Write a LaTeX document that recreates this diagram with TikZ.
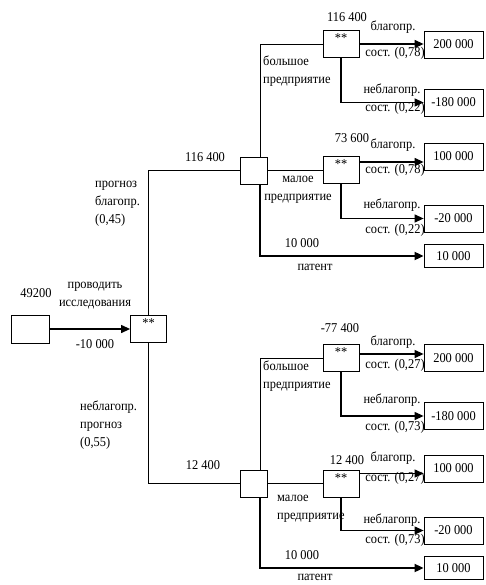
\documentclass[tikz,border=0pt]{standalone}
\usepackage{fontspec}
\setmainfont[FakeStretch=0.92]{Liberation Serif}
\usetikzlibrary{arrows.meta,calc}
\begin{document}
\begin{tikzpicture}[x=1pt,y=-1pt,
  font=\fontsize{13.5}{15}\selectfont,
  startbox/.style={draw,line width=0.8pt,minimum width=38pt,minimum height=28pt,inner sep=0pt},
  chance/.style={draw,line width=0.8pt,minimum width=36pt,minimum height=27pt,inner sep=3pt,text height=9pt,text depth=12pt},
  sq/.style={draw,line width=0.8pt,minimum size=27pt,inner sep=0pt},
  term/.style={draw,line width=0.8pt,minimum width=59pt,minimum height=27pt,inner sep=0pt},
  lbl/.style={inner sep=0pt,font=\fontsize{13.5}{18}\selectfont},
  conn/.style={line width=0.8pt},
  arr/.style={line width=1.2pt,-{Triangle[length=9pt,width=8pt]}},
  pat/.style={line width=1.8pt,-{Triangle[length=9pt,width=8pt]}}]
\useasboundingbox (0,0) rectangle (485,585);
% nodes
\node[startbox] (s) at (30,329) {};
\node[chance] (d0) at (148.5,329) {**};
\node[sq] (u) at (253.5,170.5) {};
\node[sq] (l) at (253.5,483.5) {};
\node[chance] (b1) at (341,44) {**};
\node[chance] (b2) at (341,170) {**};
\node[chance] (b3) at (341,358) {**};
\node[chance] (b4) at (341,483.5) {**};
\node[term] (t1) at (453.5,44.5) {200 000};
\node[term] (t2) at (453.5,102.5) {-180 000};
\node[term] (t3) at (453.5,156.5) {100 000};
\node[term] (t4) at (453.5,218.5) {-20 000};
\node[term,minimum height=23pt] (t5) at (453.5,256) {10 000};
\node[term] (t6) at (453.5,358) {200 000};
\node[term] (t7) at (453.5,416) {-180 000};
\node[term] (t8) at (453.5,468.5) {100 000};
\node[term] (t9) at (453.5,530.5) {-20 000};
\node[term,minimum height=23pt] (t10) at (453.5,568) {10 000};
% connectors
\draw[arr] (s) -- (d0);
\draw[conn] (d0.north) |- (u.west);
\draw[conn] (d0.south) |- (l.west);
\draw[conn] ([xshift=6.5pt]u.north) |- (b1.west);
\draw[conn] (u.east) -- (u.east -| b2.west);
\draw[pat] ([xshift=6.5pt]u.south) |- (t5.west);
\draw[arr] (b1.east) -- (b1.east -| t1.west);
\draw[arr] (b1.south) |- (t2.west);
\draw[arr] ([yshift=8pt]b2.east) coordinate (c2) -- (c2 -| t3.west);
\draw[arr] (b2.south) |- (t4.west);
\draw[conn] ([xshift=6.5pt]l.north) |- (b3.west);
\draw[conn] (l.east) -- (l.east -| b4.west);
\draw[pat] ([xshift=6.5pt]l.south) |- (t10.west);
\draw[arr] ([yshift=4pt]b3.east) coordinate (c3) -- (c3 -| t6.west);
\draw[arr] (b3.south) |- (t7.west);
\draw[arr] ([yshift=10pt]b4.east) coordinate (c4) -- (c4 -| t8.west);
\draw[arr] (b4.south) |- (t9.west);
% labels
\node[lbl] (v0) at (36,293) {49200};
\node[lbl,align=center] (q0) at (95,296) {проводить\\исследования};
\node[lbl] (c0) at (95,344) {-10 000};
\node[lbl] (vu) at (205,157) {116 400};
\node[lbl,align=left,anchor=west] (pu) at (95,204) {прогноз\\благопр.\\(0,45)};
\node[lbl,align=left,anchor=west] (pl) at (80,425) {неблагопр.\\прогноз\\(0,55)};
\node[lbl] (vl) at (203,465) {12 400};
% upper big
\node[lbl] (v1) at (347,17) {116 400};
\node[lbl,align=left,anchor=west] (e1) at (263,71.5) {большое\\предприятие};
\node[lbl] (g1) at (393,27) {благопр.};
\node[lbl] (h1) at (395,53) {сост. (0,78)};
\node[lbl] (g2) at (392,90) {неблагопр.};
\node[lbl] (h2) at (395,108) {сост. (0,22)};
% upper small
\node[lbl] (v2) at (352,138) {73 600};
\node[lbl,align=center] (e2) at (298,190) {малое\\предприятие};
\node[lbl] (g3) at (393,145) {благопр.};
\node[lbl] (h3) at (395,170) {сост. (0,78)};
\node[lbl] (g4) at (392,205) {неблагопр.};
\node[lbl] (h4) at (395,230) {сост. (0,22)};
\node[lbl] (p1) at (302,243) {10 000};
\node[lbl] (p2) at (315,267) {патент};
% lower big
\node[lbl] (v3) at (340,328) {-77 400};
\node[lbl,align=left,anchor=west] (e3) at (263,376) {большое\\предприятие};
\node[lbl] (g6) at (393,342) {благопр.};
\node[lbl] (h6) at (395,365) {сост. (0,27)};
\node[lbl] (g7) at (392,400) {неблагопр.};
\node[lbl] (h7) at (395,427) {сост. (0,73)};
% lower small
\node[lbl] (v4) at (347,460) {12 400};
\node[lbl,align=left,anchor=west] (e4) at (277,508.5) {малое\\предприятие};
\node[lbl] (g8) at (393,458) {благопр.};
\node[lbl] (h8) at (395,478) {сост. (0,27)};
\node[lbl] (g9) at (392,520) {неблагопр.};
\node[lbl] (h9) at (395,540) {сост. (0,73)};
\node[lbl] (p3) at (302,555) {10 000};
\node[lbl] (p4) at (315,577) {патент};
\end{tikzpicture}
\end{document}
